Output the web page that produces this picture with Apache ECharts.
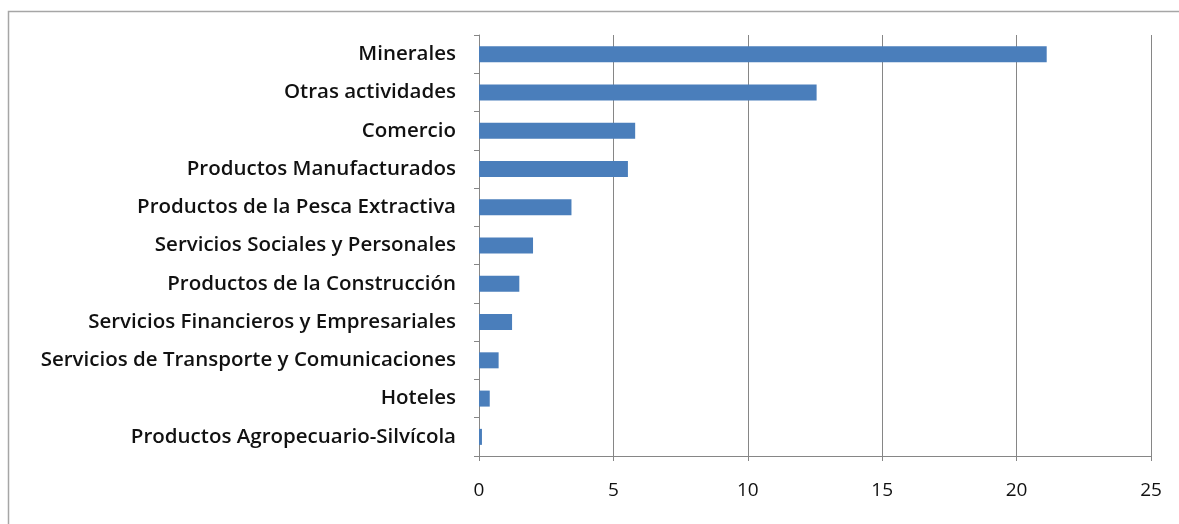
<!DOCTYPE html>
<html>
<head>
<meta charset="utf-8">
<script src="https://cdn.jsdelivr.net/npm/echarts@6/dist/echarts.min.js"></script>
<style>
  html, body { margin: 0; padding: 0; background: #ffffff; }
  #chart { width: 1179px; height: 524px; }
</style>
</head>
<body>
<div id="chart"></div>
<script>
// Sectors, listed bottom to top as drawn on the category axis
const categories = [
  'Productos Agropecuario-Silvícola',
  'Hoteles',
  'Servicios de Transporte y Comunicaciones',
  'Servicios Financieros y Empresariales',
  'Productos de la Construcción',
  'Servicios Sociales y Personales',
  'Productos de la Pesca Extractiva',
  'Productos Manufacturados',
  'Comercio',
  'Otras actividades',
  'Minerales'
];
const values = [0.11, 0.40, 0.73, 1.23, 1.50, 2.01, 3.44, 5.54, 5.81, 12.56, 21.12];
const xTicks = [0, 5, 10, 15, 20, 25];

const chart = echarts.init(document.getElementById('chart'));
const fontFamily = '"Open Sans", "DejaVu Sans", sans-serif';

chart.setOption({
  animation: false,
  backgroundColor: '#ffffff',
  graphic: [{
    type: 'rect',
    shape: { x: 8.5, y: 11.5, width: 1200, height: 600 },
    style: { fill: 'none', stroke: '#a6a6a6', lineWidth: 1.5 },
    silent: true
  }],
  grid: { left: 479, right: 28, top: 35, bottom: 68, containLabel: false },
  xAxis: {
    type: 'value',
    min: xTicks[0],
    max: xTicks[xTicks.length - 1],
    interval: xTicks[1] - xTicks[0],
    axisLine: { show: true, lineStyle: { color: '#868686', width: 1 } },
    axisTick: { show: true, length: 5, lineStyle: { color: '#868686' } },
    splitLine: { show: true, lineStyle: { color: '#868686', width: 1 } },
    axisLabel: { color: '#111111', fontSize: 19, fontFamily: fontFamily, margin: 25 }
  },
  yAxis: {
    type: 'category',
    data: categories,
    axisLine: { show: true, lineStyle: { color: '#868686', width: 1 } },
    axisTick: { show: true, length: 5, inside: false, lineStyle: { color: '#868686' } },
    axisLabel: { color: '#111111', fontSize: 20.5, fontWeight: 600, fontFamily: fontFamily, margin: 23 }
  },
  series: [{
    type: 'bar',
    data: values,
    barWidth: 16,
    itemStyle: { color: '#4a7ebb' }
  }]
});
</script>
</body>
</html>
